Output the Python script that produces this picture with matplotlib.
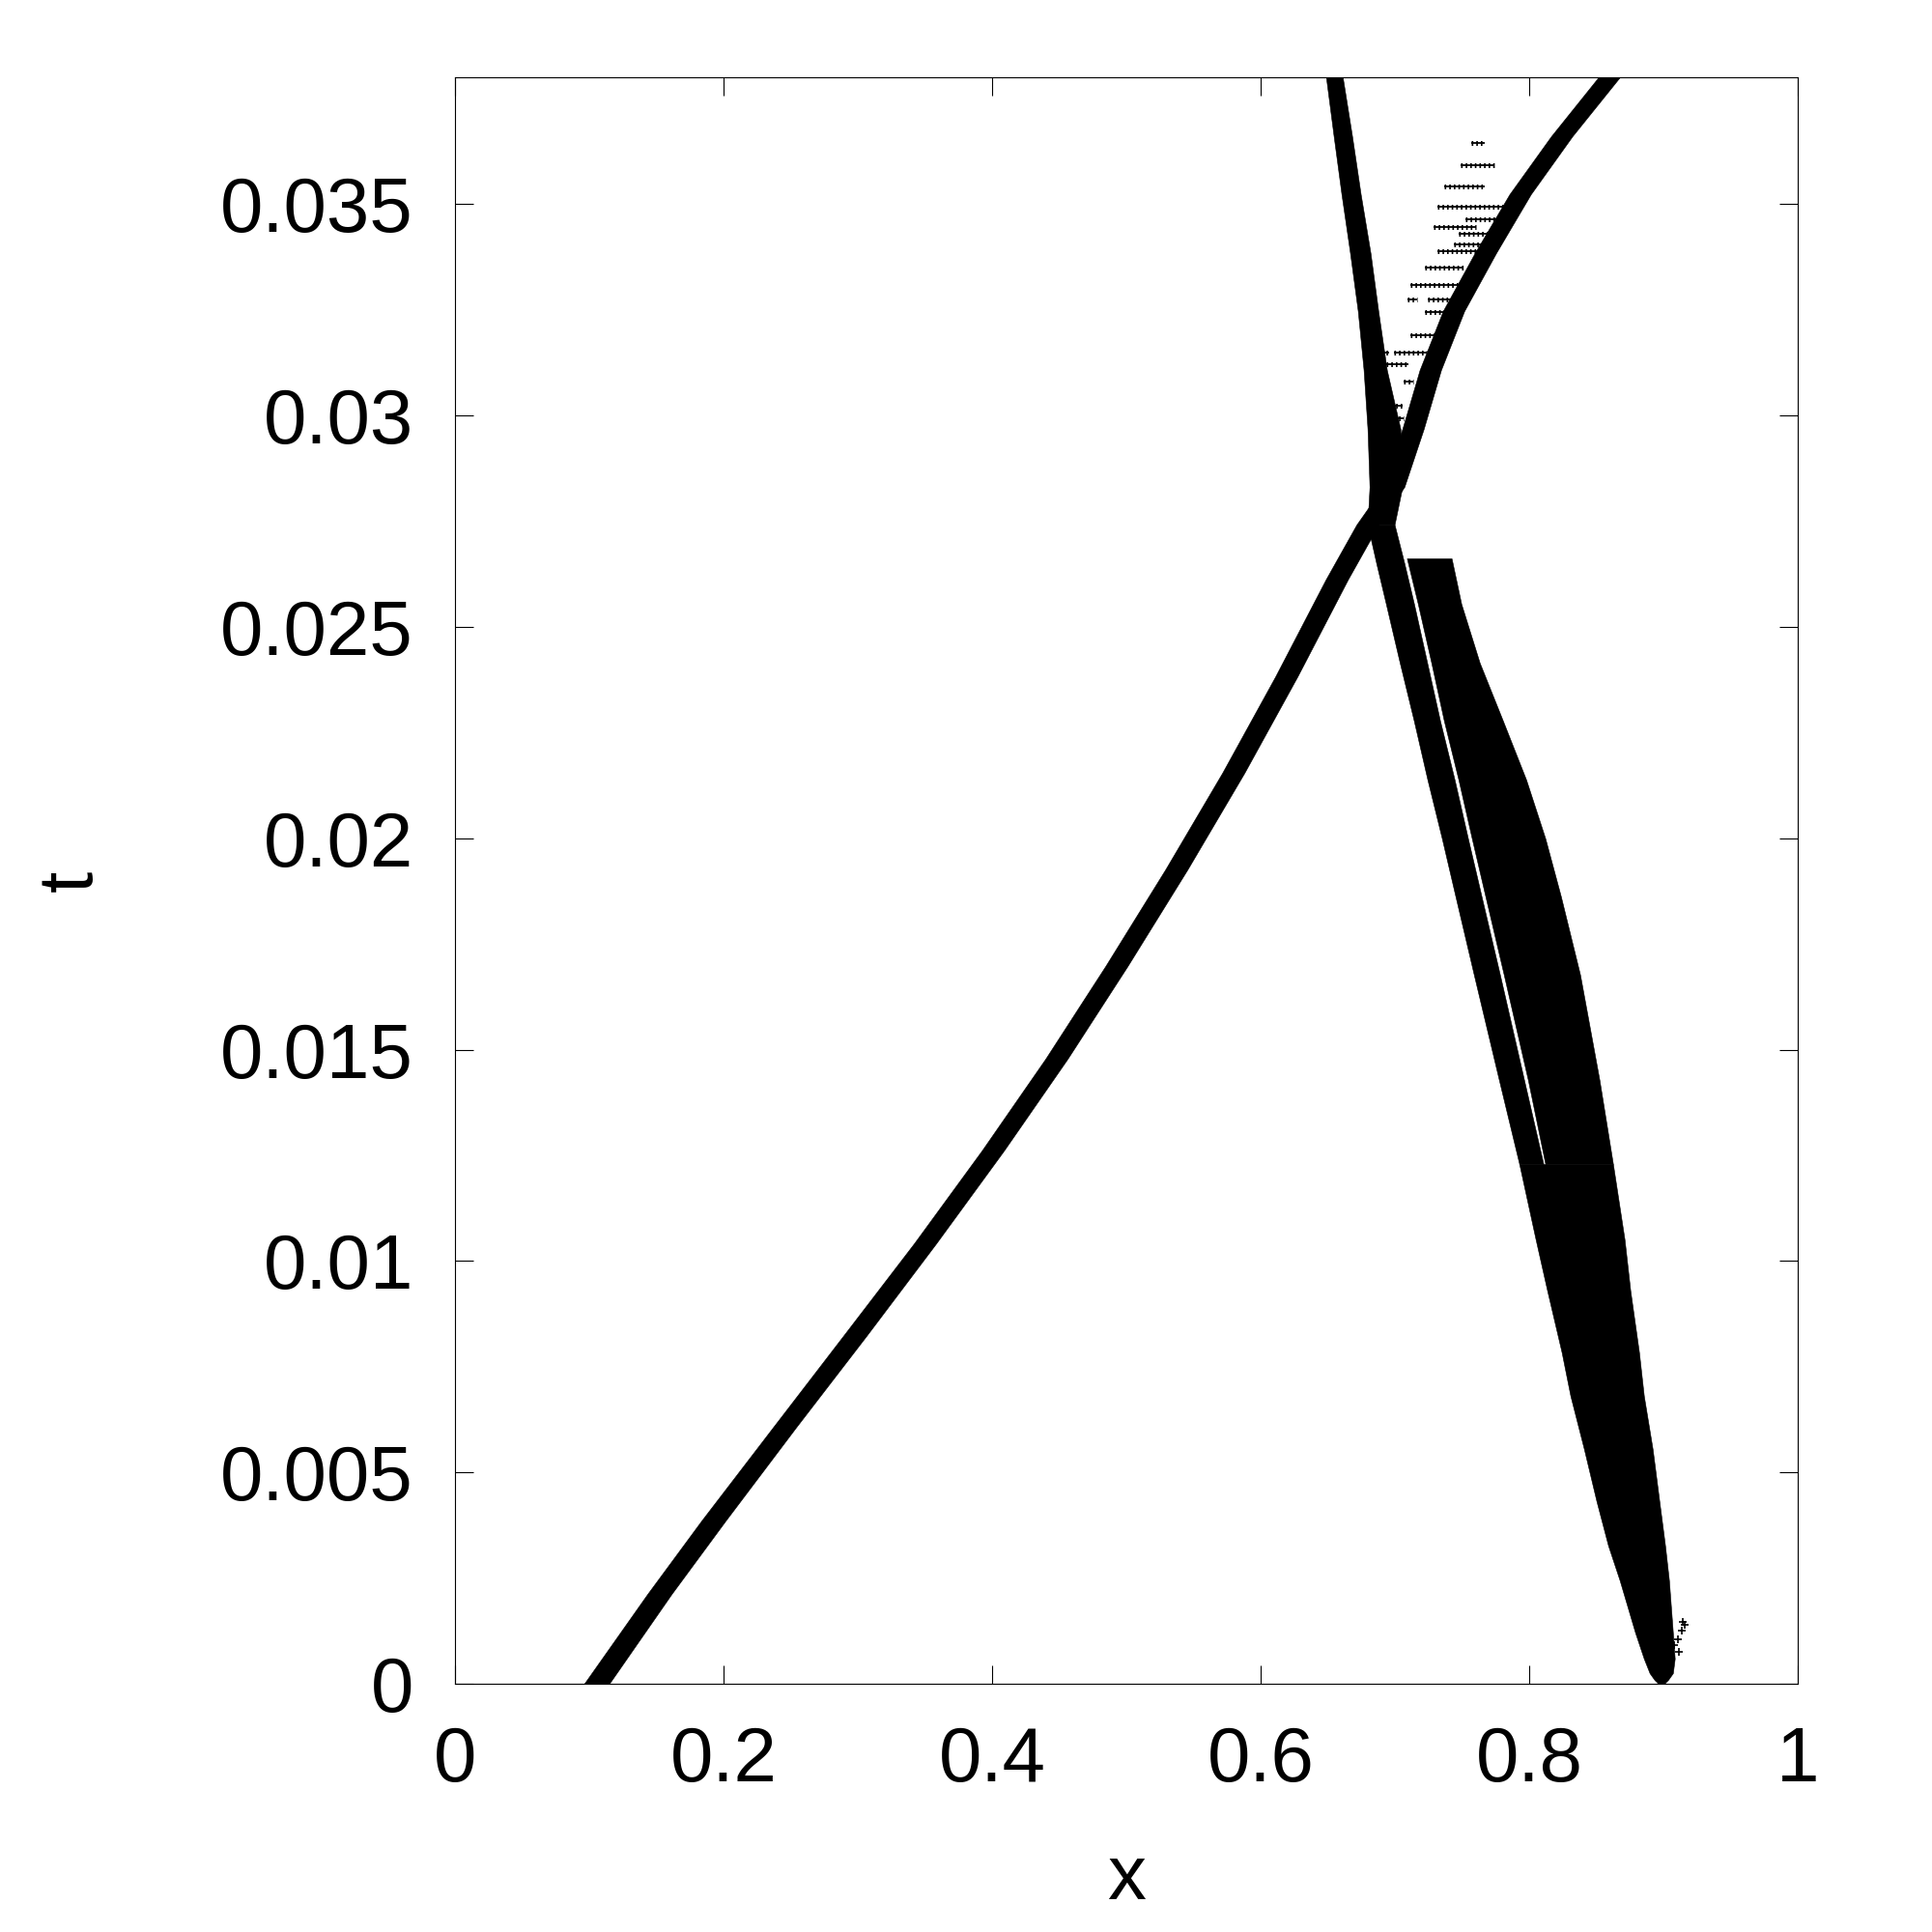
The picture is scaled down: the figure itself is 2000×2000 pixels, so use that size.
import matplotlib
matplotlib.use('Agg')
import matplotlib.pyplot as plt

plt.rcParams['font.family'] = ['Liberation Sans', 'DejaVu Sans']

# band edges: t, left x, right x
# main band, going up to the right from x=0.1 (continues above the crossing)
main_t = [0.0, 0.002125, 0.003862, 0.006055, 0.008226, 0.010420, 0.012613,
          0.014784, 0.016978, 0.019263, 0.021548, 0.023833, 0.026118, 0.027420,
          0.028311, 0.029682, 0.031076, 0.032470, 0.033841, 0.035235, 0.036606, 0.038]
main_l = [0.0961, 0.1433, 0.1836, 0.2365, 0.2890, 0.3419, 0.3923,
          0.4397, 0.4844, 0.5290, 0.5714, 0.6110, 0.6484, 0.6714,
          0.6911, 0.7055, 0.7184, 0.7357, 0.7594, 0.7853, 0.8163, 0.8515]
main_r = [0.1148, 0.1613, 0.2016, 0.2537, 0.3063, 0.3584, 0.4088,
          0.4562, 0.5009, 0.5455, 0.5879, 0.6275, 0.6649, 0.6879,
          0.7070, 0.7214, 0.7343, 0.7516, 0.7753, 0.8012, 0.8321, 0.8674]

# steep branch above the crossing
left_t = [0.027420, 0.028311, 0.029682, 0.031076, 0.032470, 0.033841, 0.035235, 0.036606, 0.038]
left_l = [0.6796, 0.6811, 0.6796, 0.6767, 0.6724, 0.6666, 0.6602, 0.6544, 0.6487]
left_r = [0.6997, 0.7055, 0.7041, 0.6940, 0.6876, 0.6818, 0.6745, 0.6681, 0.6611]

# narrow band below the crossing
narrow_t = [0.027420, 0.026506, 0.025546, 0.024152, 0.022781, 0.021388, 0.019994,
            0.018623, 0.016772, 0.014281, 0.012293]
narrow_l = [0.6796, 0.6861, 0.6933, 0.7036, 0.7141, 0.7242, 0.7350,
            0.7451, 0.7588, 0.7775, 0.7926]
narrow_r = [0.6997, 0.7070, 0.7142, 0.7240, 0.7336, 0.7444, 0.7544,
            0.7645, 0.7782, 0.7962, 0.8106]

# wide band next to it
fat_t = [0.026620, 0.025546, 0.024152, 0.022781, 0.021388, 0.019994,
         0.018623, 0.016772, 0.014281, 0.012293]
fat_l = [0.7089, 0.7171, 0.7271, 0.7365, 0.7473, 0.7573,
         0.7674, 0.7811, 0.7991, 0.8120]
fat_r = [0.7422, 0.7494, 0.7631, 0.7804, 0.7977, 0.8120,
         0.8236, 0.8379, 0.8523, 0.8624]

# both merged down to the bottom tip
tail_t = [0.012293, 0.010511, 0.009300, 0.007838, 0.006809, 0.005553, 0.004319,
          0.003268, 0.002445, 0.001211, 0.000594, 0.000251, 0.000091, 0.0]
tail_l = [0.7926, 0.8048, 0.8134, 0.8242, 0.8307, 0.8408, 0.8501,
          0.8588, 0.8674, 0.8789, 0.8854, 0.8897, 0.8933, 0.8962]
tail_r = [0.8624, 0.8710, 0.8753, 0.8818, 0.8854, 0.8919, 0.8969,
          0.9012, 0.9041, 0.9070, 0.9084, 0.9070, 0.9034, 0.9005]

# sparse rows of points between the two upper branches
row_t = [0.036446, 0.035920, 0.035418, 0.034938, 0.034641, 0.034458, 0.034298,
         0.034047, 0.033887, 0.033499, 0.033087, 0.032744, 0.032744, 0.032447,
         0.031899, 0.031487, 0.031487, 0.031213, 0.030802, 0.030231, 0.029934]
row_x0 = [0.7565, 0.7487, 0.7365, 0.7314, 0.7523, 0.7285, 0.7473,
          0.7437, 0.7314, 0.7221, 0.7113, 0.7243, 0.7091, 0.7221,
          0.7113, 0.6991, 0.6897, 0.6933, 0.7062, 0.6969, 0.6991]
row_x1 = [0.7666, 0.7738, 0.7666, 0.7883, 0.7782, 0.7602, 0.7746,
          0.7666, 0.7617, 0.7509, 0.7494, 0.7451, 0.7163, 0.7386,
          0.7307, 0.7236, 0.6955, 0.7098, 0.7134, 0.7055, 0.7062]

# small hook next to the bottom tip
hook_x = [0.9076, 0.9105, 0.9134, 0.9156, 0.9113, 0.9141]
hook_t = [0.000914, 0.001051, 0.001257, 0.001394, 0.000754, 0.001462]

fig = plt.figure(figsize=(20, 20), dpi=100)
ax = fig.add_axes([0.2355, 0.1285, 0.695, 0.8315])

for tt, l, r in [(main_t, main_l, main_r), (left_t, left_l, left_r),
                 (narrow_t, narrow_l, narrow_r), (fat_t, fat_l, fat_r),
                 (tail_t, tail_l, tail_r)]:
    ax.fill_betweenx(tt, l, r, color='black', lw=0.4)

# rows of '+' : thin line plus short vertical dashes
ax.hlines(row_t, row_x0, row_x1, color='black', lw=1.3)
ax.hlines(row_t, row_x0, row_x1, color='black', lw=3.6,
          linestyles=[(0, (0.33, 0.62))])
ax.plot(hook_x, hook_t, '+', color='black', ms=6, mew=1.2)

ax.set_xlim(0, 1)
ax.set_ylim(0, 0.038)
ax.set_xticks([0, 0.2, 0.4, 0.6, 0.8, 1])
ax.set_xticklabels(['0', '0.2', '0.4', '0.6', '0.8', '1'])
ax.set_yticks([0, 0.005, 0.01, 0.015, 0.02, 0.025, 0.03, 0.035])
ax.set_yticklabels(['0', '0.005', '0.01', '0.015', '0.02', '0.025', '0.03', '0.035'])
ax.tick_params(direction='in', length=14, width=0.8, top=True, right=True,
               labelsize=57.5, pad=31)
for s in ax.spines.values():
    s.set_linewidth(0.8)

ax.set_xlabel('x', fontsize=57.5, labelpad=34)
ax.set_ylabel('t', fontsize=57.5, labelpad=84)

fig.savefig('out.png', dpi=100)
